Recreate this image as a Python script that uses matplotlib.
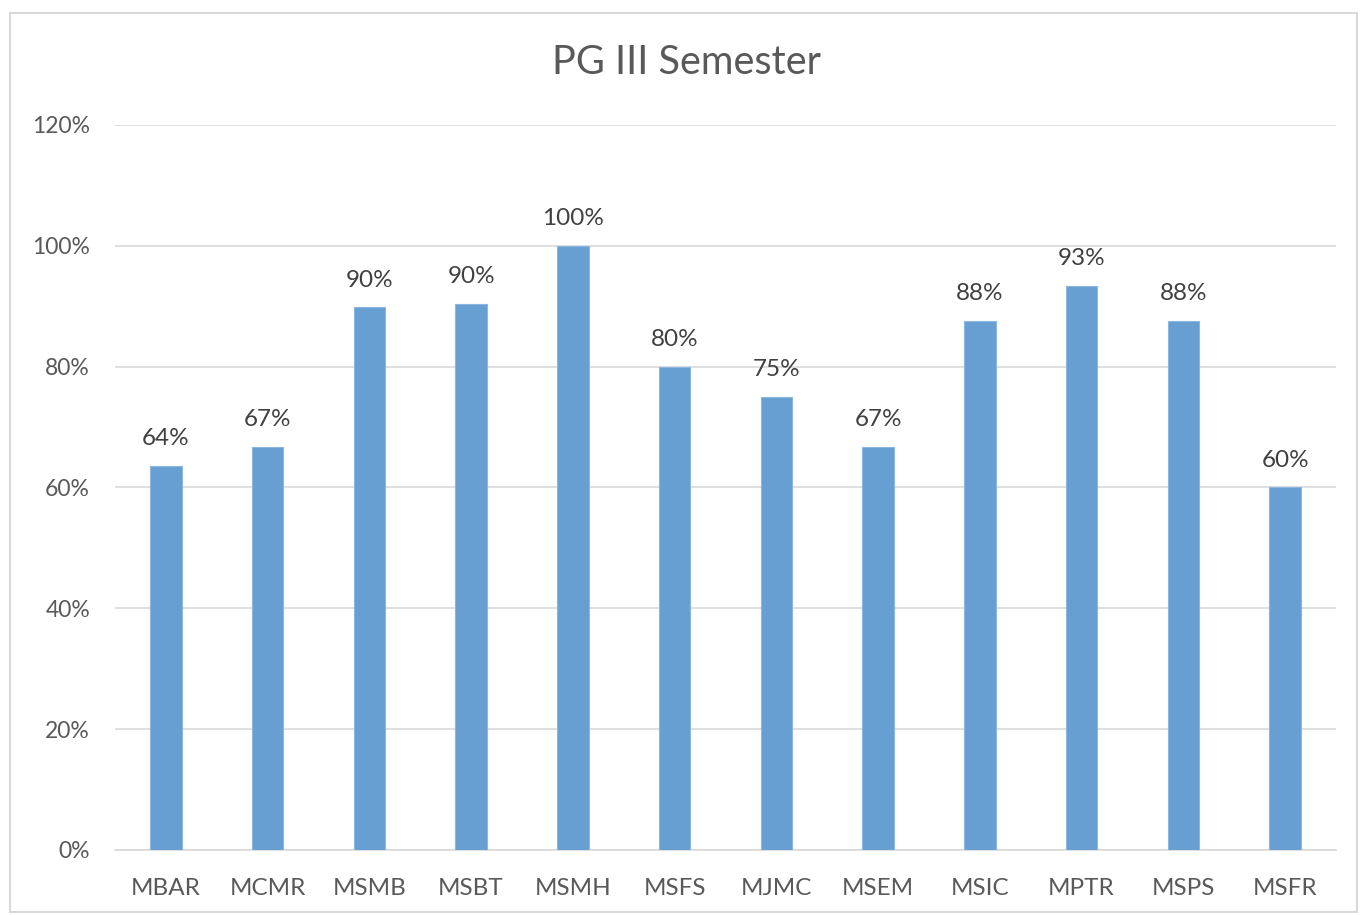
import matplotlib
matplotlib.use("Agg")
import matplotlib.pyplot as plt
from matplotlib.patches import Rectangle
from matplotlib.ticker import PercentFormatter

# === Data ===
programs = ['MBAR', 'MCMR', 'MSMB', 'MSBT', 'MSMH', 'MSFS',
            'MJMC', 'MSEM', 'MSIC', 'MPTR', 'MSPS', 'MSFR']
pass_rate = [0.636, 0.667, 0.898, 0.904, 1.00, 0.80,
             0.75, 0.667, 0.875, 0.933, 0.875, 0.60]
yticks = [0, 0.2, 0.4, 0.6, 0.8, 1.0, 1.2]

plt.rcParams['font.family'] = ['Lato', 'DejaVu Sans']
text_col = '#595959'

fig = plt.figure(figsize=(13.6, 9.15), dpi=100)
# light chart border like the spreadsheet chart area
fig.patches.append(Rectangle((10 / 1360, 3 / 915), 1347 / 1360, 899 / 915,
                             transform=fig.transFigure, fill=False,
                             edgecolor='#d9d9d9', linewidth=1.5))

ax = fig.add_axes([115 / 1360, 1 - 850 / 915, 1221 / 1360, 725 / 915])
x = range(len(programs))
bars = ax.bar(x, pass_rate, width=0.31, color='#689fd3',
              edgecolor='#8ab6e0', linewidth=0.8, zorder=3)

for b, v in zip(bars, pass_rate):
    ax.text(b.get_x() + b.get_width() / 2, v + 0.028, f'{v:.0%}',
            ha='center', va='bottom', fontsize=17.5, color='#404040')

ax.set_xlim(-0.5, len(programs) - 0.5)
ax.set_ylim(0, 1.2)
ax.set_yticks(yticks)
ax.yaxis.set_major_formatter(PercentFormatter(1.0, decimals=0))
ax.set_xticks(list(x))
ax.set_xticklabels(programs)
ax.tick_params(axis='both', length=0, labelsize=17.5, labelcolor=text_col)
ax.tick_params(axis='y', labelsize=16.5, pad=18)
ax.tick_params(axis='x', pad=20)
ax.grid(axis='y', color='#d9d9d9', linewidth=1.2, zorder=0)
for s in ['top', 'right', 'left']:
    ax.spines[s].set_visible(False)
ax.spines['bottom'].set_color('#d9d9d9')
ax.spines['bottom'].set_linewidth(1.2)

fig.text(0.505, 1 - 62 / 915, 'PG III Semester', ha='center', va='center',
         fontsize=28.5, color=text_col)

fig.savefig('out.png', dpi=100)
